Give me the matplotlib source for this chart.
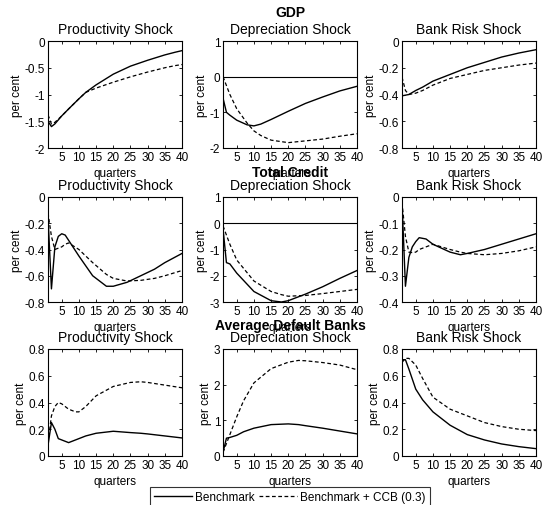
import matplotlib
matplotlib.use("Agg")
import matplotlib.pyplot as plt

plt.rcParams['font.family'] = ['Liberation Sans', 'DejaVu Sans']
plt.rcParams['font.size'] = 8.5

# data: (x points, benchmark, benchmark + CCB)
gdp_prod_x = [1, 2, 3, 5, 7, 10, 12, 15, 20, 25, 30, 35, 38, 40]
gdp_prod_b = [-1.5, -1.6, -1.55, -1.4, -1.27, -1.08, -0.96, -0.82, -0.62, -0.47, -0.36, -0.26, -0.21, -0.18]
gdp_prod_c = [-1.38, -1.55, -1.52, -1.4, -1.27, -1.08, -0.96, -0.88, -0.77, -0.67, -0.58, -0.5, -0.46, -0.44]

gdp_dep_x = [1, 2, 3, 5, 8, 10, 12, 15, 20, 25, 30, 35, 40]
gdp_dep_b = [-0.6, -1.0, -1.08, -1.22, -1.35, -1.38, -1.33, -1.2, -0.97, -0.75, -0.57, -0.4, -0.27]
gdp_dep_c = [0.0, -0.25, -0.5, -0.9, -1.3, -1.52, -1.65, -1.78, -1.85, -1.8, -1.75, -1.67, -1.6]

gdp_risk_x = [1, 2, 3, 5, 7, 10, 15, 20, 25, 30, 35, 40]
gdp_risk_b = [-0.41, -0.405, -0.4, -0.37, -0.345, -0.3, -0.25, -0.2, -0.16, -0.12, -0.09, -0.065]
gdp_risk_c = [-0.27, -0.37, -0.4, -0.39, -0.37, -0.33, -0.28, -0.25, -0.22, -0.2, -0.18, -0.165]

cr_prod_x = [1, 2, 3, 4, 5, 6, 7, 10, 14, 18, 20, 24, 28, 32, 35, 40]
cr_prod_b = [-0.15, -0.7, -0.38, -0.3, -0.28, -0.29, -0.33, -0.45, -0.6, -0.68, -0.68, -0.65, -0.6, -0.55, -0.5, -0.43]
cr_prod_c = [-0.12, -0.3, -0.4, -0.39, -0.38, -0.36, -0.35, -0.4, -0.5, -0.59, -0.62, -0.64, -0.635, -0.62, -0.6, -0.56]

cr_dep_x = [1, 2, 3, 5, 10, 15, 18, 20, 25, 30, 35, 40]
cr_dep_b = [-0.2, -1.5, -1.55, -1.9, -2.6, -2.95, -3.0, -2.95, -2.7, -2.42, -2.1, -1.8]
cr_dep_c = [-0.1, -0.45, -0.8, -1.4, -2.2, -2.6, -2.72, -2.78, -2.75, -2.68, -2.6, -2.52]

cr_risk_x = [1, 2, 3, 4, 5, 6, 8, 10, 15, 18, 20, 25, 30, 35, 40]
cr_risk_b = [-0.02, -0.34, -0.23, -0.19, -0.17, -0.155, -0.16, -0.18, -0.21, -0.22, -0.215, -0.2, -0.18, -0.16, -0.14]
cr_risk_c = [-0.02, -0.15, -0.21, -0.212, -0.21, -0.2, -0.19, -0.18, -0.2, -0.21, -0.215, -0.22, -0.215, -0.205, -0.19]

def_prod_x = [1, 2, 3, 4, 5, 7, 9, 10, 12, 15, 20, 25, 28, 30, 35, 40]
def_prod_b = [0.08, 0.25, 0.2, 0.13, 0.12, 0.1, 0.12, 0.13, 0.15, 0.17, 0.185, 0.175, 0.17, 0.165, 0.15, 0.135]
def_prod_c = [0.1, 0.3, 0.37, 0.4, 0.39, 0.35, 0.33, 0.33, 0.37, 0.45, 0.52, 0.55, 0.555, 0.55, 0.53, 0.51]

def_dep_x = [1, 2, 3, 5, 7, 10, 15, 20, 23, 25, 30, 35, 40]
def_dep_b = [0.1, 0.5, 0.52, 0.58, 0.68, 0.78, 0.88, 0.9, 0.88, 0.85, 0.78, 0.7, 0.62]
def_dep_c = [0.1, 0.35, 0.6, 1.1, 1.55, 2.05, 2.45, 2.63, 2.68, 2.67, 2.62, 2.55, 2.42]

def_risk_x = [1, 2, 3, 5, 7, 10, 15, 20, 25, 30, 35, 40]
def_risk_b = [0.72, 0.72, 0.65, 0.5, 0.42, 0.33, 0.23, 0.16, 0.12, 0.09, 0.07, 0.055]
def_risk_c = [0.7, 0.73, 0.73, 0.68, 0.58, 0.44, 0.35, 0.3, 0.25, 0.22, 0.2, 0.19]

row_titles = ["GDP", "Total Credit", "Average Default Banks"]
col_titles = ["Productivity Shock", "Depreciation Shock", "Bank Risk Shock"]
xticks = [5, 10, 15, 20, 25, 30, 35, 40]

panels = [
    [(gdp_prod_x, gdp_prod_b, gdp_prod_c, (-2, 0), [-2, -1.5, -1, -0.5, 0], False),
     (gdp_dep_x, gdp_dep_b, gdp_dep_c, (-2, 1), [-2, -1, 0, 1], True),
     (gdp_risk_x, gdp_risk_b, gdp_risk_c, (-0.8, 0), [-0.8, -0.6, -0.4, -0.2, 0], False)],
    [(cr_prod_x, cr_prod_b, cr_prod_c, (-0.8, 0), [-0.8, -0.6, -0.4, -0.2, 0], False),
     (cr_dep_x, cr_dep_b, cr_dep_c, (-3, 1), [-3, -2, -1, 0, 1], True),
     (cr_risk_x, cr_risk_b, cr_risk_c, (-0.4, 0), [-0.4, -0.3, -0.2, -0.1, 0], False)],
    [(def_prod_x, def_prod_b, def_prod_c, (0, 0.8), [0, 0.2, 0.4, 0.6, 0.8], False),
     (def_dep_x, def_dep_b, def_dep_c, (0, 3), [0, 1, 2, 3], False),
     (def_risk_x, def_risk_b, def_risk_c, (0, 0.8), [0, 0.2, 0.4, 0.6, 0.8], False)],
]

W, H = 543, 506
fig = plt.figure(figsize=(W / 100, H / 100), dpi=100)

col_left = [48, 223, 402]
col_w = 134
row_top = [42, 198, 350]
row_h = [107, 105, 107]
bold_y = [13, 173, 326]

for r in range(3):
    for c in range(3):
        x, b, cc, ylim, yt, zero = panels[r][c]
        ax = fig.add_axes([col_left[c] / W, 1 - (row_top[r] + row_h[r]) / H,
                           col_w / W, row_h[r] / H])
        if zero:
            ax.axhline(0, color='black', lw=0.8)
        ax.plot(x, b, color='black', lw=1.0, label='Benchmark')
        ax.plot(x, cc, color='black', lw=0.9, ls=(0, (3, 2)), label='Benchmark + CCB (0.3)')
        ax.set_xlim(1, 40)
        ax.set_ylim(*ylim)
        ax.set_xticks(xticks)
        ax.set_yticks(yt)
        ax.set_yticklabels(["%g" % v for v in yt])
        ax.tick_params(direction='in', top=True, right=True, length=2.5,
                       width=0.6, labelsize=8.5, pad=2)
        for sp in ax.spines.values():
            sp.set_linewidth(0.8)
        ax.set_ylabel('per cent', fontsize=8.5, labelpad=1)
        ax.set_xlabel('quarters', fontsize=8.5, labelpad=3)
        ax.set_title(col_titles[c], fontsize=10, pad=6)
        if r == 0 and c == 0:
            handles, labels = ax.get_legend_handles_labels()

for r in range(3):
    fig.text((col_left[1] + col_w / 2) / W, 1 - bold_y[r] / H, row_titles[r],
             ha='center', va='center', fontsize=10, fontweight='bold')

leg = fig.legend(handles, labels, ncol=2, loc='upper left',
                 bbox_to_anchor=(150 / W, 1 - 488 / H),
                 fontsize=8.5, frameon=True, fancybox=False,
                 edgecolor='black', handlelength=3.2, borderpad=0.35,
                 columnspacing=0.4, handletextpad=0.25, borderaxespad=0)
leg.get_frame().set_linewidth(0.8)

fig.savefig('out.png', dpi=100)
